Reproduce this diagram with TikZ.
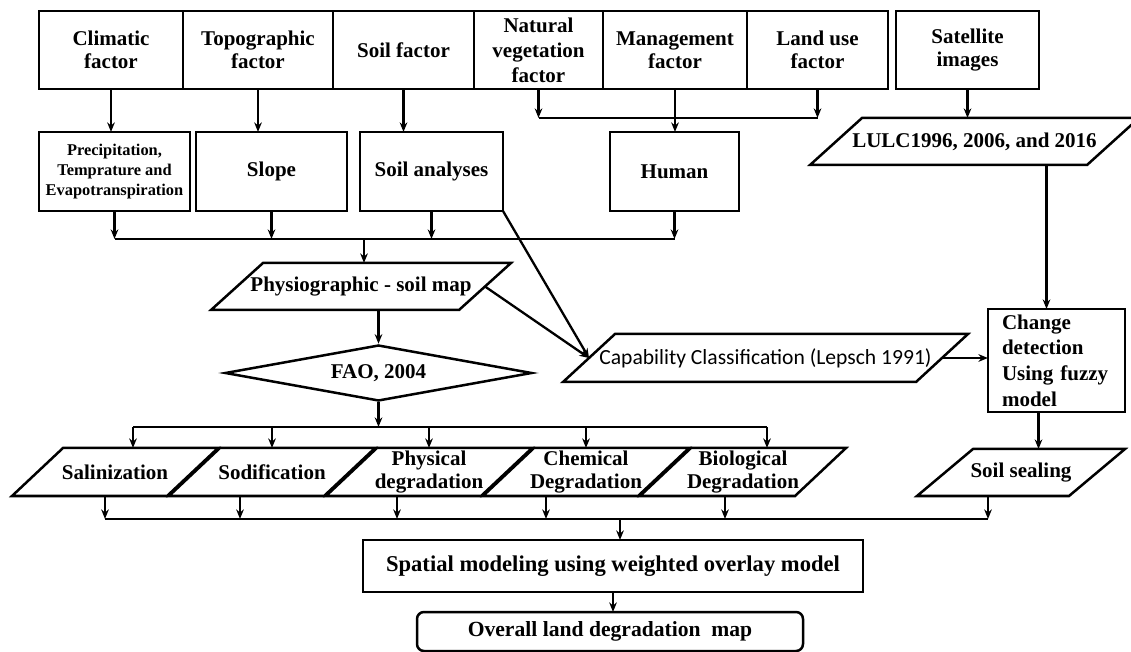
\documentclass[tikz,border=0pt]{standalone}
\usepackage{fontspec}
\setmainfont{Liberation Serif}
\newfontfamily\calibrifont{Carlito}
\usetikzlibrary{arrows.meta, positioning, shapes.geometric}

\begin{document}
\begin{tikzpicture}[
        x=0.5pt, y=-0.5pt,
        >={Stealth[length=4.8pt, width=3.8pt]},
        line width=1.25pt,
        txt/.style={font=\bfseries\fontsize{10.5}{11.5}\selectfont},
        block/.style={draw, rectangle, txt, align=center, inner sep=1pt,
            outer sep=0pt},
        topblock/.style={block, minimum height=39pt},
        midblock/.style={block, minimum height=39.5pt},
        datablock/.style={rectangle, txt, align=center, inner sep=1pt,
            outer sep=0pt, minimum height=24pt,
            append after command={\pgfextra{\draw
                ([xshift=-#1]\tikzlastnode.south west) --
                ([xshift=#1]\tikzlastnode.north west) --
                ([xshift=#1]\tikzlastnode.north east) --
                ([xshift=-#1]\tikzlastnode.south east) -- cycle;}}},
        datablock/.default=13pt,
        degblock/.style={datablock=12.75pt, minimum width=77.5pt},
        decision/.style={draw, diamond, aspect=5.5, txt, inner sep=0pt,
            minimum width=153.5pt, minimum height=28pt},
        line/.style={draw, line width=1.15pt, ->},
    ]
    \useasboundingbox (0,0) rectangle (1131,652);

    % 1. Factors (top row)
    \node[topblock, minimum width=72pt] at (111,50) (clim) {Climatic\\factor};
    \node[topblock, minimum width=75pt, right=0pt of clim] (topo)
        {Topographic\\factor};
    \node[topblock, minimum width=70.5pt, right=0pt of topo] (soilf)
        {Soil factor};
    \node[topblock, minimum width=64.5pt, right=0pt of soilf,
          font=\bfseries\fontsize{10.5}{12.5}\selectfont] (natveg)
        {Natural\\vegetation\\factor};
    \node[topblock, minimum width=72pt, right=0pt of natveg] (mgmt)
        {Management\\factor};
    \node[topblock, minimum width=70.5pt, right=0pt of mgmt] (landuse)
        {Land use\\factor};
    \node[topblock, minimum width=71.5pt] at (967.5,50) (sat)
        {Satellite\\images};

    % 2. Derived layers
    \node[midblock, minimum width=75.5pt,
          font=\bfseries\fontsize{8.2}{10}\selectfont] at (114.5,171.5) (precip)
        {Precipitation,\\Temprature and\\Evapotranspiration};
    \node[midblock, minimum width=75.5pt] at (271.5,171.5) (slope) {Slope};
    \node[midblock, minimum width=71.5pt] at (431.5,171.5) (soilan)
        {Soil analyses};
    \node[midblock, minimum width=64.5pt] at (674.5,171.5) (human) {Human};
    \node[datablock, minimum width=138.5pt, minimum height=23.5pt]
        at (974.5,141.5) (lulc) {LULC1996, 2006, and 2016};

    % 3. Soil map and classification
    \node[datablock, minimum width=124pt, minimum height=23.5pt]
        at (361,286.5) (physio) {Physiographic - soil map};
    \node[decision] at (378.5,373) (fao) {FAO, 2004};
    \node[datablock, minimum width=176.5pt,
          font=\calibrifont\fontsize{10.8}{12}\selectfont]
        at (765.5,358) (cap) {Capability Classification (Lepsch 1991)};
    \node[block, align=left, text width=54.5pt, inner xsep=7pt,
          minimum height=51.5pt, font=\bfseries\fontsize{10.5}{12.8}\selectfont]
        at (1056.5,360.5) (chg) {Change\\detection\\Using fuzzy\\model};

    % 4. Degradation types
    \node[degblock] at (115,472) (salin) {Salinization};
    \node[degblock] at (272,472) (sodif) {Sodification};
    \node[degblock] at (429,472) (phys) {Physical\\degradation};
    \node[degblock] at (586,472) (chem) {Chemical\\Degradation};
    \node[degblock] at (743,472) (bio) {Biological\\Degradation};
    \node[datablock=14pt, minimum width=76pt, minimum height=23.5pt]
        at (1021,472.5) (sealing) {Soil sealing};

    % 5. Modelling and output
    \node[block, minimum width=250pt, minimum height=26pt,
          font=\bfseries\fontsize{11.3}{12}\selectfont] at (613,566) (spatial)
        {Spatial modeling using weighted overlay model};
    \node[block, rounded corners=3.5pt, minimum width=193pt,
          minimum height=19.5pt, font=\bfseries\fontsize{10.8}{12}\selectfont]
        at (610,631.5) (overall) {Overall land degradation\ \ map};

    % --- Arrows ---
    \coordinate (hbar) at (674,118);
    \coordinate (sbar) at (364,239);
    \coordinate (dbar) at (376,427);
    \coordinate (obar) at (620,519);
    \coordinate (chgin) at ([xshift=-5pt]chg.north);
    \coordinate (chgout) at ([xshift=-9pt]chg.south);

    \path[line] (clim.south) -- (clim.south |- precip.north);
    \path[line] (topo.south) -- (topo.south |- slope.north);
    \path[line] (soilf.south) -- (soilf.south |- soilan.north);
    \path[line] (natveg.south) -- (natveg.south |- hbar);
    \path[line] (landuse.south) -- (landuse.south |- hbar);
    \draw[line width=1.15pt] (natveg.south |- hbar) -- (landuse.south |- hbar);
    \path[line] (mgmt.south) -- (mgmt.south |- human.north);
    \path[line] (sat.south) -- (sat.south |- lulc.north);

    \path[line] (precip.south) -- (precip.south |- sbar);
    \path[line] (slope.south) -- (slope.south |- sbar);
    \path[line] (soilan.south) -- (soilan.south |- sbar);
    \path[line] (human.south) -- (human.south |- sbar);
    \draw[line width=1.15pt] (precip.south |- sbar) -- (human.south |- sbar);
    \path[line] (sbar) -- (sbar |- physio.north);

    \path[line] (soilan.south east) -- (cap.west);
    \path[line] (physio.east) -- (cap.west);
    \path[line] (cap.east) -- (cap.east -| chg.west);
    \path[line] (chgin |- lulc.south) -- (chgin);

    \path[line] (fao.north |- physio.south) -- (fao.north);
    \path[line] (fao.south) -- (fao.south |- dbar);
    \draw[line width=1.15pt] ([xshift=9pt]salin.north |- dbar)
        -- ([xshift=12pt]bio.north |- dbar);
    \path[line] ([xshift=9pt]salin.north |- dbar) -- ([xshift=9pt]salin.north);
    \path[line] (sodif.north |- dbar) -- (sodif.north);
    \path[line] (phys.north |- dbar) -- (phys.north);
    \path[line] (chem.north |- dbar) -- (chem.north);
    \path[line] ([xshift=12pt]bio.north |- dbar) -- ([xshift=12pt]bio.north);
    \path[line] (chgout) -- (chgout |- sealing.north);

    \path[line] ([xshift=-5pt]salin.south) -- ([xshift=-5pt]salin.south |- obar);
    \path[line] ([xshift=-16pt]sodif.south) -- ([xshift=-16pt]sodif.south |- obar);
    \path[line] ([xshift=-16pt]phys.south) -- ([xshift=-16pt]phys.south |- obar);
    \path[line] ([xshift=-20pt]chem.south) -- ([xshift=-20pt]chem.south |- obar);
    \path[line] ([xshift=-9pt]bio.south) -- ([xshift=-9pt]bio.south |- obar);
    \path[line] ([xshift=-16.5pt]sealing.south)
        -- ([xshift=-16.5pt]sealing.south |- obar);
    \draw[line width=1.15pt] ([xshift=-5pt]salin.south |- obar)
        -- ([xshift=-16.5pt]sealing.south |- obar);
    \path[line] (obar) -- (obar |- spatial.north);
    \path[line] (spatial.south) -- (spatial.south |- overall.north);

\end{tikzpicture}
\end{document}
